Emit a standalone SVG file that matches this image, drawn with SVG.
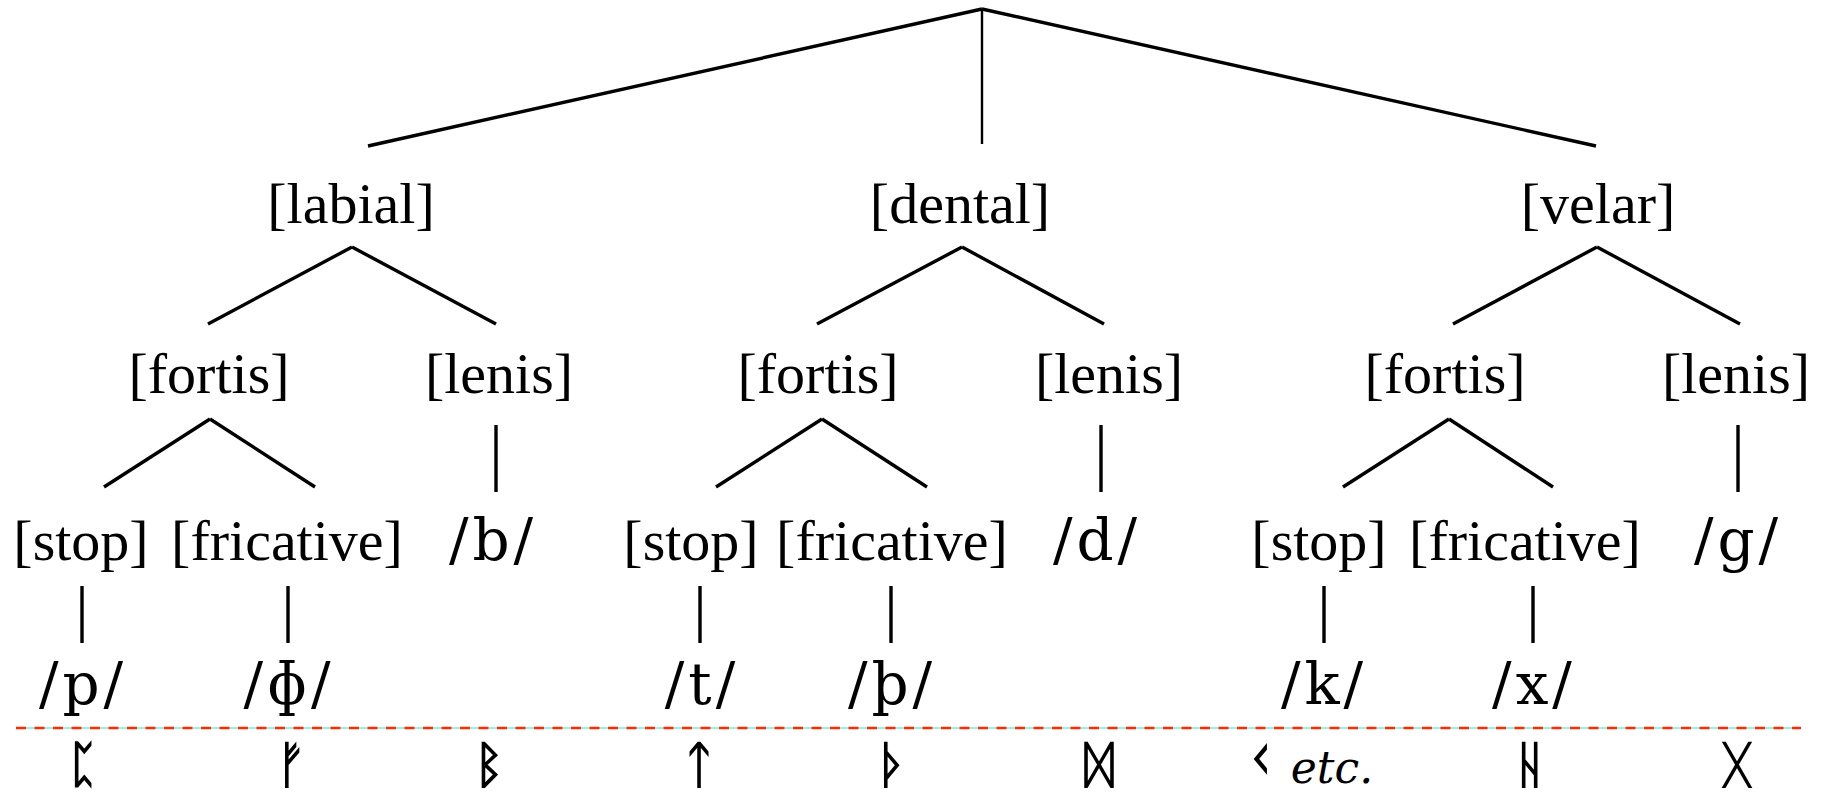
<svg xmlns="http://www.w3.org/2000/svg" width="1826" height="794" viewBox="0 0 1826 794">
<style>
.t{font-family:"Liberation Serif","Times New Roman",serif;font-size:58px;fill:#000;text-anchor:middle}
.s{font-family:"DejaVu Serif",serif;font-size:58px;letter-spacing:4px;fill:#000;text-anchor:middle}
.r{font-family:"DejaVu Sans",sans-serif;font-weight:bold;font-size:50px;fill:#000;text-anchor:middle}
.e{font-family:"DejaVu Serif",serif;font-style:italic;font-size:44px;fill:#000;text-anchor:middle}
.c line{stroke:#000;stroke-width:3.4;stroke-linecap:butt}
</style>
<rect width="1826" height="794" fill="#fff"/>
<g id="connectors" class="c">
<line x1="982" y1="9" x2="368" y2="146"/>
<line x1="982" y1="9" x2="982" y2="144" style="stroke-width:2.4"/>
<line x1="982" y1="9" x2="1596" y2="146"/>
<line x1="352" y1="247" x2="208" y2="324"/>
<line x1="352" y1="247" x2="496" y2="324"/>
<line x1="962" y1="247" x2="817" y2="324"/>
<line x1="962" y1="247" x2="1104" y2="324"/>
<line x1="1597" y1="247" x2="1453" y2="324"/>
<line x1="1597" y1="247" x2="1740" y2="324"/>
<line x1="210" y1="419" x2="104" y2="487"/>
<line x1="210" y1="419" x2="315" y2="487"/>
<line x1="496" y1="425" x2="496" y2="492"/>
<line x1="822" y1="419" x2="716" y2="487"/>
<line x1="822" y1="419" x2="927" y2="487"/>
<line x1="1101" y1="425" x2="1101" y2="492"/>
<line x1="1449" y1="419" x2="1343" y2="487"/>
<line x1="1449" y1="419" x2="1553" y2="487"/>
<line x1="1738" y1="425" x2="1738" y2="492"/>
<line x1="82" y1="586" x2="82" y2="643"/>
<line x1="288" y1="586" x2="288" y2="643"/>
<line x1="700" y1="586" x2="700" y2="643"/>
<line x1="891" y1="586" x2="891" y2="643"/>
<line x1="1324" y1="586" x2="1324" y2="643"/>
<line x1="1533" y1="586" x2="1533" y2="643"/>
</g>
<g id="divider">
<line x1="16" y1="728" x2="1801" y2="728" stroke="#2ee6c8" stroke-width="1"/>
<line x1="16" y1="728" x2="1801" y2="728" stroke="#ff2a00" stroke-width="2.5" stroke-dasharray="10 8.5"/>
</g>
<g id="n-labial"><text class="t" x="351" y="223">[labial]</text></g>
<g id="n-dental"><text class="t" x="960" y="223">[dental]</text></g>
<g id="n-velar"><text class="t" x="1598" y="223">[velar]</text></g>
<g id="n-lab-fortis"><text class="t" x="209" y="393">[fortis]</text></g>
<g id="n-lab-lenis"><text class="t" x="499" y="393">[lenis]</text></g>
<g id="n-den-fortis"><text class="t" x="818" y="393">[fortis]</text></g>
<g id="n-den-lenis"><text class="t" x="1109" y="393">[lenis]</text></g>
<g id="n-vel-fortis"><text class="t" x="1445" y="393">[fortis]</text></g>
<g id="n-vel-lenis"><text class="t" x="1736" y="393">[lenis]</text></g>
<g id="n-lab-stop"><text class="t" x="81" y="560">[stop]</text></g>
<g id="n-lab-fric"><text class="t" x="287" y="560">[fricative]</text></g>
<g id="n-b"><text class="s" x="493" y="560">/b/</text></g>
<g id="n-den-stop"><text class="t" x="691" y="560">[stop]</text></g>
<g id="n-den-fric"><text class="t" x="892" y="560">[fricative]</text></g>
<g id="n-d"><text class="s" x="1097" y="560">/d/</text></g>
<g id="n-vel-stop"><text class="t" x="1319" y="560">[stop]</text></g>
<g id="n-vel-fric"><text class="t" x="1525" y="560">[fricative]</text></g>
<g id="n-g"><text class="s" x="1738" y="560">/g/</text></g>
<g id="n-p"><text class="s" x="83" y="704">/p/</text></g>
<g id="n-phi"><text class="s" x="289" y="704">/ɸ/</text></g>
<g id="n-t"><text class="s" x="702" y="704">/t/</text></g>
<g id="n-thorn"><text class="s" x="892" y="704">/þ/</text></g>
<g id="n-k"><text class="s" x="1324" y="704">/k/</text></g>
<g id="n-x"><text class="s" x="1534" y="704">/x/</text></g>
<g id="runes">
<text class="r" x="83" y="782">ᛈ</text>
<text class="r" x="291" y="782">ᚠ</text>
<text class="r" x="489" y="782">ᛒ</text>
<text class="r" x="699" y="782">ᛏ</text>
<text class="r" x="892" y="782">ᚦ</text>
<text class="r" x="1099" y="782">ᛞ</text>
<text class="r" x="1260" y="779" style="font-size:58px">ᚲ</text>
<text class="e" x="1332" y="783">etc.</text>
<text class="r" x="1530" y="782">ᚺ</text>
<text class="r" x="1737" y="782">ᚷ</text>
</g>
</svg>
